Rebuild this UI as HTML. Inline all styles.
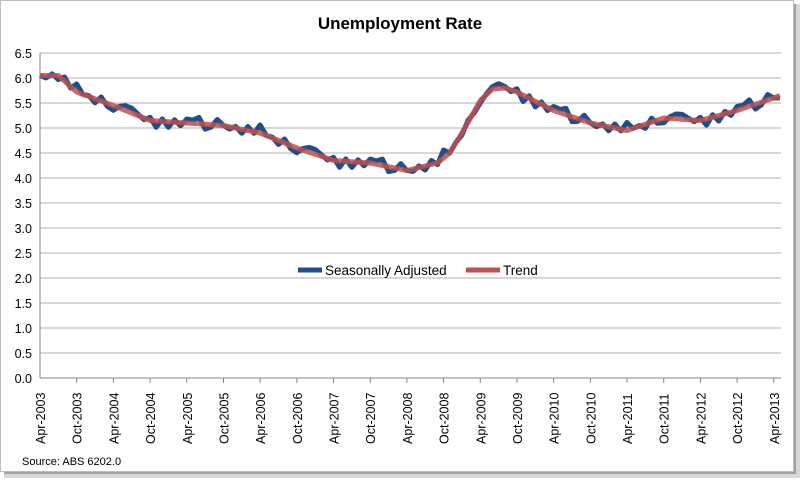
<!DOCTYPE html>
<html><head><meta charset="utf-8"><style>
body{margin:0;background:#fff;}
#c{position:relative;width:800px;height:478px;font-family:"Liberation Sans",sans-serif;}
</style></head><body><div id="c">
<svg id="s" width="800" height="478" xmlns="http://www.w3.org/2000/svg">
<rect x="0.5" y="0.5" width="793" height="471" fill="#fff" stroke="#bdbdbd"/>
<rect x="794" y="4" width="6" height="474" fill="#d8d8d8"/>
<rect x="4" y="472" width="796" height="6" fill="#d8d8d8"/>
<rect x="794" y="4" width="2" height="470" fill="#a0a0a0"/>
<rect x="4" y="472" width="792" height="2" fill="#a0a0a0"/>
<text x="400" y="29" text-anchor="middle" font-size="17" font-weight="bold" fill="#000">Unemployment Rate</text>
<g id="grid"></g>
<g id="ax"></g>
<polyline id="sa" fill="none" stroke="#1F4E8C" stroke-width="5" stroke-linejoin="round"/>
<polyline id="tr" fill="none" stroke="#C0504D" stroke-opacity="0.85" stroke-width="5" stroke-linejoin="round"/>
<line x1="298" y1="270" x2="322" y2="270" stroke="#1F4E8C" stroke-width="5"/>
<text x="325" y="275" font-size="13.5" fill="#000">Seasonally Adjusted</text>
<line x1="466" y1="270" x2="500" y2="270" stroke="#C0504D" stroke-width="5"/>
<text x="503" y="275" font-size="13.5" fill="#000">Trend</text>
<text x="22" y="465" font-size="11" fill="#000">Source:  ABS 6202.0</text>
</svg></div>
<script>
var L=40,R=781,T=53,B=378,pm=6.115;
var g=document.getElementById('grid'),ax=document.getElementById('ax'),h='',a='';
for(var i=0;i<=13;i++){var v=i*0.5,y=B-v*50;
 if(i>0)h+='<line x1="'+L+'" y1="'+y+'" x2="'+R+'" y2="'+y+'" stroke="#bfbfbf" stroke-width="1.2"/>';
 a+='<text x="32" y="'+(y+5)+'" text-anchor="end" font-size="12.5" fill="#000">'+v.toFixed(1)+'</text>';}
g.innerHTML=h;
a+='<line x1="'+L+'" y1="'+T+'" x2="'+L+'" y2="'+B+'" stroke="#868686"/>';
a+='<line x1="'+L+'" y1="'+B+'" x2="'+R+'" y2="'+B+'" stroke="#868686"/>';
for(var k=0;k<=20;k++){var x=L+k*6*pm;var yr=2003+Math.floor(k/2);
 var lab=(k%2==0?'Apr-':'Oct-')+yr;
 if(k>0)a+='<line x1="'+x+'" y1="'+B+'" x2="'+x+'" y2="'+(B+5)+'" stroke="#868686"/>';
 a+='<text transform="translate('+(x+5)+',444) rotate(-90)" font-size="12.5" fill="#000">'+lab+'</text>';}
ax.innerHTML=a;
var key=[[0,6.05],[3,6.05],[6,5.72],[12,5.45],[18,5.15],[24,5.1],[30,5.05],[36,4.9],[42,4.6],[48,4.35],[54,4.3],[60,4.15],[65,4.3],[67,4.5],[69,4.9],[72,5.55],[74,5.78],[76,5.8],[78,5.72],[84,5.35],[90,5.1],[96,4.95],[102,5.2],[108,5.15],[114,5.35],[120,5.6],[121,5.65]];
function tv(m){for(var i=0;i<key.length-1;i++){if(m<=key[i+1][0]){var f=(m-key[i][0])/(key[i+1][0]-key[i][0]);return key[i][1]+f*(key[i+1][1]-key[i][1]);}}return key[key.length-1][1];}
var noise=[0,0.02,0.08,-0.05,0.03,-0.02,0.04,-0.03,0.06,-0.06,0.05,-0.04,0.1,-0.08,0.02,0.06,-0.03,-0.04,0.05,0,0.03,-0.05,0.02,0.07,-0.06,0.04,0.01,-0.07,0.05,-0.02];
var sp='',tp='';
for(var m=0;m<=121;m++){var t=tv(m);var n=noise[(m*7)%noise.length]*1.6;
 if(m>=68&&m<=74)n*=0.5;
 var xx=(L+m*pm).toFixed(1);
 tp+=xx+','+(B-t*50).toFixed(1)+' ';sp+=xx+','+(B-(t+n)*50).toFixed(1)+' ';}
document.getElementById('sa').setAttribute('points',sp);
document.getElementById('tr').setAttribute('points',tp);
</script></body></html>
